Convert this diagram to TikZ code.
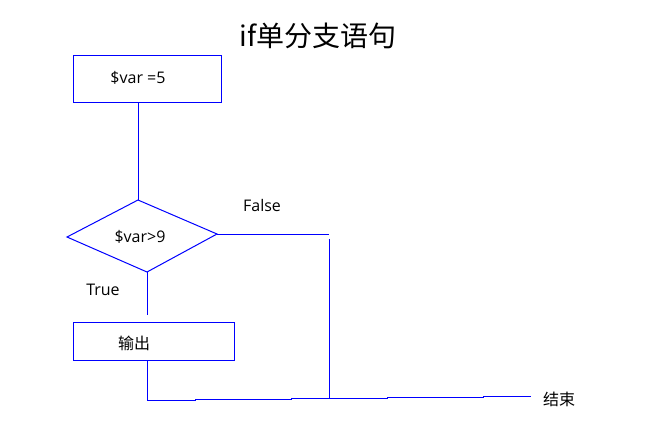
\documentclass[tikz,border=0pt]{standalone}
\usepackage{fontspec}
\setmainfont{Open Sans}
\newfontfamily\cjk{Noto Sans CJK SC}
\usetikzlibrary{shapes.geometric}
\begin{document}
\begin{tikzpicture}[x=1pt,y=-1pt,
  line/.style={draw=blue,line width=1pt},
  lbl/.style={font=\fontsize{16}{18}\selectfont,text=black,inner sep=0pt},
  clbl/.style={font=\cjk\fontsize{16}{18}\selectfont,text=black,inner sep=0pt}]
\useasboundingbox (0,0) rectangle (660,440);
% title
\node[clbl,font=\cjk\fontsize{28}{32}\selectfont] (title) at (318,36) {if单分支语句};
% start box
\draw[line] (73,55) rectangle (221,102);
\node[lbl] (init) at (138,78) {\$var =5};
\coordinate (initb) at (138,102);
% diamond
\coordinate (dt) at (138,200);
\coordinate (dr) at (217,234);
\coordinate (db) at (147,272);
\coordinate (dl) at (67,237);
\draw[line,line join=miter] (dt) -- (dr) -- (db) -- (dl) -- cycle;
\node[lbl] (cond) at (140,237) {\$var>9};
\draw[line] (initb) -- (dt);
% false branch
\coordinate (fc) at (329,234);
\coordinate (fv) at (329,239);
\coordinate (fj) at (329,398.3);
\draw[line] (dr) -- (fc);
\draw[line] (fv) -- (fj);
\node[lbl] (false) at (262,205) {False};
% true branch
\coordinate (tend) at (147,315);
\draw[line] (db) -- (tend);
\node[lbl] (true) at (103,290) {True};
% output box
\draw[line] (73,322) rectangle (234,360);
\node[clbl] (out) at (134,343) {输出};
\coordinate (outb) at (147,360);
% bottom line
\coordinate (end) at (531,396.7);
\draw[line] (outb) -- (147,400.3) -- (195,400.3) -- (195,399.7) -- (291,399.7) -- (291,398.7) -- (387,398.7) -- (387,397.7) -- (483,397.7) -- (483,396.7) -- (end);
\node[clbl] (fin) at (559,399) {结束};
\end{tikzpicture}
\end{document}
